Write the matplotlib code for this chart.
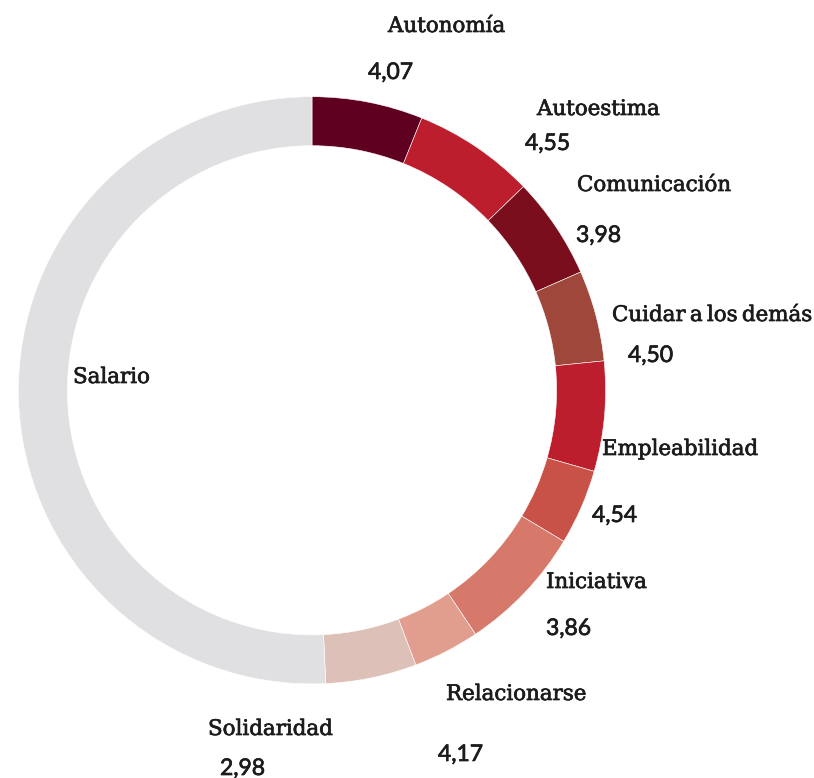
import matplotlib
matplotlib.use("Agg")
import matplotlib.pyplot as plt
import matplotlib.patheffects as pe

# segment shares (% of the ring)
categories = ["Autonomía", "Autoestima", "Comunicación", "Cuidar a los demás",
              "Empleabilidad", None, "Iniciativa", "Relacionarse",
              "Solidaridad", "Salario"]
shares = [6.1, 6.7, 5.6, 5.0, 6.05, 4.15, 7.0, 3.65, 5.0, 50.75]
scores = ["4,07", "4,55", "3,98", "4,50", "4,54", None, "3,86", "4,17",
          "2,98", None]
colors = ["#600020", "#BC1E2D", "#7A0E1C", "#9E473A", "#BC1E2D",
          "#C85248", "#D6786A", "#E19E8F", "#DDC0B8", "#E0E0E2"]

W, H = 814, 778
# label layout in image pixels (left x, baseline y)
name_pos = [(388, 32), (537, 115), (577, 191), (612, 321), (602, 455),
            None, (546, 588), (446, 700), (208, 735), (73, 383)]
score_pos = [(368, 79), (525, 150), (576, 242), (628, 362), (592, 522),
             None, (546, 635), (438, 761), (220, 775), None]

fig = plt.figure(figsize=(W / 100, H / 100), dpi=100)
ax = fig.add_axes([0, 0, 1, 1])

cx, cy = 312, 390.3
r_out, ring = 293.6, 49
ax.pie(shares, colors=colors, startangle=90, counterclock=False,
       center=(cx, H - cy), radius=r_out,
       wedgeprops=dict(width=ring, edgecolor="white", linewidth=0.4))
ax.set_xlim(0, W)
ax.set_ylim(0, H)
ax.set_aspect("equal")
ax.axis("off")

txt = "#1c1c1c"
bold = [pe.withStroke(linewidth=0.5, foreground=txt)]
for i, name in enumerate(categories):
    if name is None:
        continue
    x, y = name_pos[i]
    # tight word spacing like the original typeface
    ax.text(x, H - y, name.replace(" ", "\u2009"), ha="left", va="baseline",
            fontsize=15.4, family=["DejaVu Serif", "DejaVu Sans"], color=txt,
            path_effects=bold)
    if scores[i] is not None:
        sx, sy = score_pos[i]
        ax.text(sx, H - sy, scores[i], ha="left", va="baseline",
                fontsize=16.5, family="Lato", color=txt, path_effects=bold)

fig.savefig("out.png", dpi=100)
